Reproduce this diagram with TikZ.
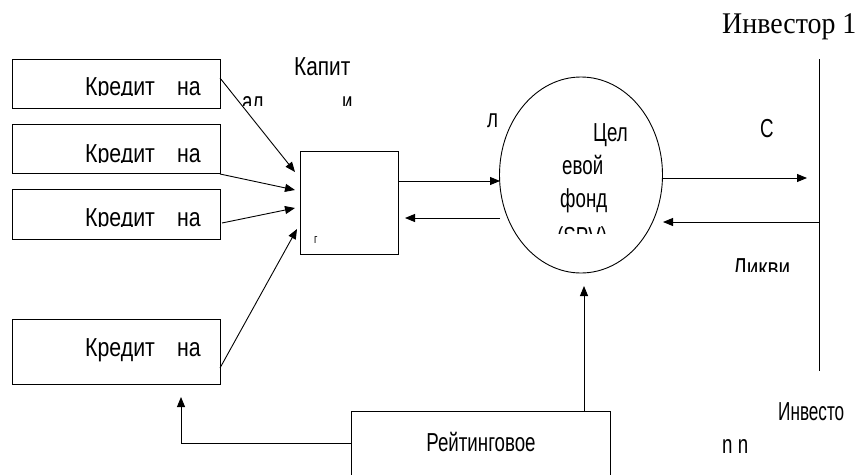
\documentclass[tikz,border=0pt]{standalone}
\usepackage{fontspec}
\usetikzlibrary{arrows.meta,shapes.geometric}
\newfontfamily\narrowsans[FakeStretch=0.72]{Liberation Sans}
\newfontfamily\boxsans[FakeStretch=0.82]{Liberation Sans}
\newfontfamily\capsans[FakeStretch=0.80]{Liberation Sans}
\newfontfamily\tightsans[FakeStretch=0.66]{Liberation Sans}
\newfontfamily\serifhead[FakeStretch=0.93]{Liberation Serif}

\begin{document}
\begin{tikzpicture}[x=1pt,y=-1pt,
  frame/.style={draw, line width=0.9pt, inner sep=0, anchor=north west},
  lbl/.style={font=\narrowsans\fontsize{26}{26}\selectfont, inner sep=0, anchor=base west},
  boxlbl/.style={lbl, font=\boxsans\fontsize{26}{26}\selectfont},
  conn/.style={draw, line width=0.9pt, -{Triangle[length=10pt,width=8pt]}},
  plain/.style={draw, line width=0.9pt}]

\useasboundingbox (0,0) rectangle (856,474);
\clip (0,0) rectangle (856,474);

% credit boxes on the left
\node[frame, minimum width=208pt, minimum height=49pt] (k1) at (12,59) {};
\node[frame, minimum width=208pt, minimum height=49pt] (k2) at (12,124) {};
\node[frame, minimum width=208pt, minimum height=50pt] (k3) at (12,189) {};
\node[frame, minimum width=208pt, minimum height=65pt] (k4) at (12,319) {};

% collecting box, fund and rating box
\node[frame, minimum width=98pt, minimum height=103pt] (pool) at (300,151) {};
\node[draw, line width=0.9pt, ellipse, inner sep=0, minimum width=163pt, minimum height=196pt] (fund) at (581,175) {};
\node[frame, minimum width=259pt, minimum height=90pt] (rate) at (351,411) {};

% box labels (cut off at the baseline)
\begin{scope}
  \clip (12,59) rectangle (220,95);
  \node[boxlbl] (t1a) at (85,95) {Кредит};
  \node[boxlbl] (t1b) at (177,95) {на};
\end{scope}
\begin{scope}
  \clip (12,124) rectangle (220,162);
  \node[boxlbl] (t2a) at (85,162) {Кредит};
  \node[boxlbl] (t2b) at (177,162) {на};
\end{scope}
\begin{scope}
  \clip (12,189) rectangle (220,226);
  \node[boxlbl] (t3a) at (85,226) {Кредит};
  \node[boxlbl] (t3b) at (177,226) {на};
\end{scope}
\node[boxlbl] (t4a) at (85,356) {Кредит};
\node[boxlbl] (t4b) at (177,356) {на};

% capital label
\node[lbl, font=\capsans\fontsize{26}{26}\selectfont] (cap) at (294,75) {Капит};
\begin{scope}
  \clip (230,90) rectangle (360,105);
  \node[lbl] (cap2) at (242,110) {ал};
  \node[lbl] (cap3) at (342,110) {и};
\end{scope}
\node[lbl] (cl) at (487,127) {л};
\node[inner sep=0, anchor=base west, font=\narrowsans\fontsize{13}{13}\selectfont] (pg) at (314,243) {г};

% fund text
\node[lbl] (f1) at (593,141) {Цел};
\node[lbl] (f2) at (562,174) {евой};
\node[lbl] (f3) at (560,207) {фонд};
\begin{scope}
  \clip (540,215) rectangle (640,233);
  \node[lbl] (f4) at (557,245) {(SPV)};
\end{scope}

% investor side
\node[inner sep=0, anchor=base west, font=\serifhead\fontsize{30}{30}\selectfont] (inv1) at (722,33) {Инвестор 1};
\coordinate (invtop) at (819,59);
\coordinate (invbot) at (819,371);
\draw[plain] (invtop) -- (invbot);
\node[lbl] (cflow) at (760,137) {С};
\begin{scope}
  \clip (720,250) rectangle (792,271);
  \node[lbl, font=\capsans\fontsize{26}{26}\selectfont] (liq) at (733,276) {Ликви};
\end{scope}
\node[lbl, font=\tightsans\fontsize{26}{26}\selectfont] (invn) at (778,420) {Инвесто};
\node[lbl] (nn) at (722,453) {n n};

\node[inner sep=0, anchor=base, font=\narrowsans\fontsize{26}{26}\selectfont] (rtxt) at (481,451) {Рейтинговое};

% connector end points
\coordinate (k1o) at (220,78);   \coordinate (p1) at (295,172);
\coordinate (k2o) at (220,174);  \coordinate (p2) at (295,190);
\coordinate (k3o) at (222,223);  \coordinate (p3) at (295,208);
\coordinate (k4o) at (220,368);  \coordinate (p4) at (297,229);
\coordinate (po) at (398,181);   \coordinate (fi) at (500,181);
\coordinate (fo) at (500,218);   \coordinate (pi) at (405,218);
\coordinate (fr) at (663,178);   \coordinate (ii) at (807,178);
\coordinate (io) at (819,222);   \coordinate (fri) at (663,222);
\coordinate (ro) at (584,411);   \coordinate (fb) at (584,286);
\coordinate (rl) at (351,443);   \coordinate (k4b) at (181,397);

\draw[conn] (k1o) -- (p1);
\draw[conn] (k2o) -- (p2);
\draw[conn] (k3o) -- (p3);
\draw[conn] (k4o) -- (p4);
\draw[conn] (po) -- (fi);
\draw[conn] (fo) -- (pi);
\draw[conn] (fr) -- (ii);
\draw[conn] (io) -- (fri);
\draw[conn] (ro) -- (fb);
\draw[conn] (rl) -| (k4b);
\end{tikzpicture}
\end{document}
